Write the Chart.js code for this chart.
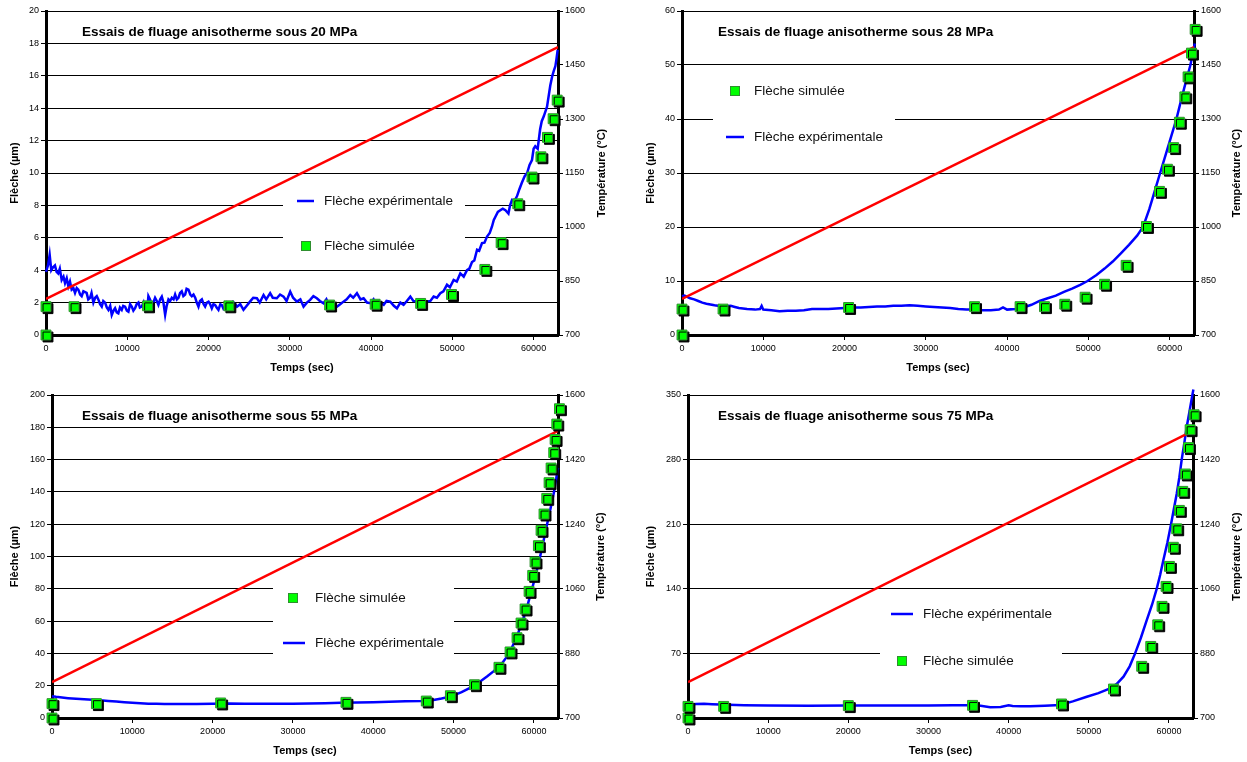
<!DOCTYPE html>
<html>
<head>
<meta charset="utf-8">
<script src="https://cdn.jsdelivr.net/npm/chart.js@4.4.0/dist/chart.umd.min.js"></script>
<style>
  html, body { margin: 0; padding: 0; background: #fff; }
  #wrap { position: relative; width: 1247px; height: 762px; }
  canvas { position: absolute; }
</style>
</head>
<body>
<div id="wrap">
  <canvas id="c20" width="623" height="381" style="left:0;top:0"></canvas>
  <canvas id="c28" width="624" height="381" style="left:623px;top:0"></canvas>
  <canvas id="c55" width="623" height="381" style="left:0;top:381px"></canvas>
  <canvas id="c75" width="624" height="381" style="left:623px;top:381px"></canvas>
</div>
<script>
// ---- data ----
const xTicks = [0, 10000, 20000, 30000, 40000, 50000, 60000];
const tempTicksA = [700, 850, 1000, 1150, 1300, 1450, 1600];
const tempTicksB = [700, 880, 1060, 1240, 1420, 1600];
const tempTime = [0, 63000];
const tempVal = [800, 1500];

// 20 MPa
const yTicks20 = [0, 2, 4, 6, 8, 10, 12, 14, 16, 18, 20];
const expT20 = [0, 250, 450, 650, 900, 1100, 1300, 1500, 1700, 1930, 2150, 2340, 2550, 2750, 2950, 3160, 3370, 3570, 3780, 3980,
  4200, 4390, 4600, 5000, 5200, 5420, 5600, 5830, 6050, 6250, 6440, 6650, 6860, 7050, 7270, 7480, 7680, 7900, 8090, 8300,
  8500, 8700, 8900, 9100, 9320, 9500, 9730, 9950, 10140, 10350, 10550, 10750, 10960, 11150, 11370, 11550, 11780, 12000, 12200, 12450,
  12600, 12800, 13000, 13200, 13420, 13630, 13830, 14050, 14250, 14450, 14660, 14850, 15070, 15280, 15480, 15700, 15890, 16100, 16300, 16500,
  16700, 16900, 17120, 17300, 17530, 17750, 17940, 18150, 18360, 18550, 18760, 18950, 19180, 19400, 19580, 19800, 20000, 20200, 20400, 20600,
  20810, 21000, 21220, 21450, 21640, 21850, 22050, 22300, 22660, 23000, 23300, 23500, 23900, 24300, 24700, 25100, 25500, 25950, 26300, 26770,
  27100, 27580, 27900, 28400, 28800, 29230, 29600, 30050, 30400, 30870, 31300, 31690, 32100, 32500, 32900, 33330, 33700, 34150, 34500, 34970,
  35400, 35800, 36200, 36600, 37000, 37440, 37800, 38260, 38700, 39080, 39500, 39900, 40300, 40700, 41100, 41550, 41900, 42360, 42800, 43180,
  43600, 44000, 44400, 44830, 45200, 45650, 46000, 46470, 46880, 47300, 47700, 48100, 48520, 48900, 49340, 49700, 50160, 50550, 50980, 51400,
  51800, 52100, 52420, 52700, 53040, 53300, 53650, 53950, 54270, 54600, 54880, 55100, 55300, 55600, 55900, 56200, 56530, 56900, 57100, 57350,
  57650, 57950, 58250, 58550, 58900, 59200, 59500, 59800, 60000, 60200, 60500, 60800, 61000, 61250, 61650, 62050, 62300, 62480, 62680, 62800, 62960];
const expF20 = [3.9, 4.3, 4.95, 4.0, 4.2, 4.3, 3.9, 3.8, 4.1, 3.4, 3.6, 3.2, 3.5, 3.0, 3.3, 2.8, 2.9, 2.6, 2.9, 2.8,
  2.5, 2.4, 2.7, 2.6, 2.2, 2.3, 2.6, 2.0, 2.3, 2.4, 2.2, 1.9, 1.75, 2.1, 2.0, 1.7, 1.55, 1.8, 1.24, 1.5,
  1.65, 1.4, 1.34, 1.7, 1.55, 1.8, 1.75, 1.5, 1.44, 1.9, 1.75, 1.5, 1.65, 1.9, 2.0, 1.7, 1.75, 2.0, 1.55, 1.5,
  2.4, 2.2, 1.9, 2.0, 2.3, 2.1, 1.86, 2.2, 2.37, 2.0, 1.24, 1.8, 2.2, 2.1, 2.3, 2.2, 2.5, 2.2, 2.3, 2.6,
  2.7, 2.4, 2.5, 2.85, 2.8, 2.5, 2.4, 2.5, 2.3, 2.0, 1.75, 2.1, 2.2, 1.9, 1.75, 2.0, 2.06, 1.9, 1.65, 1.9,
  1.85, 1.7, 1.55, 1.9, 1.85, 1.6, 1.65, 2.0, 1.85, 2.05, 1.9, 1.75, 1.9, 1.55, 1.8, 2.06, 2.3, 2.27, 2.0, 2.47,
  2.2, 2.58, 2.3, 2.27, 2.5, 2.37, 2.1, 2.68, 2.3, 2.06, 2.2, 1.75, 2.0, 2.17, 2.4, 2.27, 2.1, 1.96, 2.2, 1.65,
  1.9, 1.75, 1.9, 2.06, 2.2, 2.47, 2.3, 2.58, 2.2, 2.27, 2.0, 1.96, 2.2, 1.75, 2.0, 1.86, 2.1, 2.06, 1.8, 1.65,
  2.0, 1.86, 2.1, 2.37, 2.1, 2.06, 1.8, 1.75, 2.06, 2.1, 2.37, 2.3, 2.58, 2.7, 3.1, 2.95, 3.4, 3.3, 3.8, 3.6,
  4.0, 4.1, 4.5, 4.6, 5.26, 5.2, 5.67, 5.7, 6.08, 6.3, 6.7, 7.1, 7.3, 7.6, 7.7, 7.8, 7.7, 7.5, 8.0, 8.35,
  8.3, 8.56, 9.0, 9.4, 9.8, 10.0, 10.5, 10.8, 11.5, 11.65, 11.5, 12.7, 13.2, 13.5, 14.1, 15.4, 16.0, 16.3, 16.6, 17.0, 17.6];
const simT20 = [0, 0, 3450, 12500, 22500, 34900, 40500, 46100, 49900, 54000, 56000, 58050, 59800, 60900, 61700, 62400, 62900];
const simF20 = [0, 1.75, 1.75, 1.8, 1.8, 1.85, 1.9, 1.95, 2.5, 4.05, 5.7, 8.1, 9.75, 11.0, 12.2, 13.35, 14.5];

// 28 MPa
const yTicks28 = [0, 10, 20, 30, 40, 50, 60];
const expT28 = [0, 300, 700, 1000, 1500, 2000, 2500, 3000, 4000, 5000, 6000, 6500, 7000, 8000, 9000, 9600, 9800, 10000, 11000, 12000,
  13000, 14000, 15000, 16000, 17000, 18000, 19000, 20000, 21000, 22000, 23000, 24000, 25000, 26000, 27000, 28000, 29000, 30000, 31000, 32000,
  33000, 34000, 35000, 36000, 37000, 38000, 39000, 39500, 40000, 41000, 41600, 42000, 43000, 44000, 45000, 46000, 47000, 48000, 49000, 49900,
  51000, 52000, 53000, 54000, 55000, 56000, 56730, 57500, 58000, 58830, 59500, 60000, 60840, 61500, 62000, 62560, 63100];
const expF28 = [7.2, 7.3, 7.0, 6.8, 6.6, 6.3, 6.0, 5.8, 5.5, 5.3, 5.4, 5.2, 5.0, 4.8, 4.7, 4.8, 5.4, 4.7, 4.6, 4.4,
  4.5, 4.5, 4.6, 4.8, 4.8, 4.8, 4.9, 5.0, 5.1, 5.1, 5.2, 5.3, 5.3, 5.4, 5.4, 5.5, 5.4, 5.3, 5.2, 5.1,
  5.0, 4.8, 4.7, 4.7, 4.6, 4.6, 4.7, 5.1, 4.7, 4.8, 4.9, 5.1, 5.6, 6.3, 6.8, 7.3, 8.0, 8.6, 9.3, 10.0,
  11.1, 12.3, 13.6, 15.1, 16.7, 18.4, 20.0, 23.3, 25.8, 30.0, 33.3, 35.8, 40.0, 44.0, 46.9, 50.0, 54.0];
const simT28 = [0, 0, 5050, 20500, 36000, 41600, 44600, 47100, 49600, 52000, 54650, 57150, 58750, 59730, 60500, 61200, 61870, 62270, 62690, 63140];
const simF28 = [0, 4.8, 4.8, 5.1, 5.25, 5.25, 5.25, 5.7, 7.0, 9.4, 12.9, 20.1, 26.6, 30.7, 34.7, 39.4, 44.1, 47.8, 52.2, 56.6];

// 55 MPa
const yTicks55 = [0, 20, 40, 60, 80, 100, 120, 140, 160, 180, 200];
const expT55 = [0, 500, 1000, 2000, 3000, 4000, 5000, 6000, 7000, 8000, 9000, 10000, 11000, 12000, 13000, 14000, 16000, 18000, 20000, 22000,
  24000, 26000, 28000, 30000, 32000, 34000, 36000, 38000, 40000, 42000, 44000, 46000, 47500, 48500, 49700, 51000, 52600, 54200, 55000, 55900,
  56940, 58000, 59000, 59770, 60500, 61000, 61640, 62000, 62500, 63000];
const expF55 = [13.5, 13.1, 12.8, 12.3, 11.9, 11.6, 11.3, 11.0, 10.6, 10.2, 9.8, 9.4, 9.1, 8.9, 8.8, 8.7, 8.6, 8.7, 8.8, 9.0,
  8.9, 8.8, 8.8, 8.9, 9.0, 9.2, 9.4, 9.6, 9.8, 10.0, 10.3, 10.5, 11.2, 12.1, 13.4, 16.0, 20.0, 25.8, 29.0, 33.0,
  40.0, 52.0, 66.0, 80.0, 94.0, 105.0, 120.0, 128.0, 140.0, 155.0];
const simT55 = [0, 0, 5530, 21000, 36600, 46600, 49600, 52600, 55650, 57030, 57900, 58400, 58900, 59400, 59850, 60140, 60560, 60890, 61260,
  61600, 61890, 62140, 62470, 62640, 62850, 63180];
const simF55 = [0, 8.9, 8.9, 9.3, 9.7, 10.5, 13.8, 20.6, 31.4, 40.9, 49.7, 58.8, 67.5, 78.4, 88.3, 96.6, 106.7, 116.2, 126.3,
  136, 145.7, 154.8, 164.3, 172.5, 182, 191.5];

// 75 MPa
const yTicks75 = [0, 70, 140, 210, 280, 350];
const expT75 = [0, 1000, 2000, 3000, 5000, 7000, 10000, 15000, 20000, 25000, 30000, 33000, 35500, 36500, 37700, 39000, 40000, 40500, 41500, 42700,
  44500, 46430, 48000, 49750, 51200, 52660, 53500, 54330, 55100, 55780, 56500, 57230, 57900, 58470, 58900, 59300, 59800, 60260, 60600, 60970,
  61300, 61590, 61900, 62220, 62600, 62920, 63050];
const expF75 = [14.4, 15.2, 15.5, 15.0, 14.3, 13.8, 13.5, 13.3, 13.5, 13.6, 13.5, 13.7, 13.8, 13.2, 11.6, 12.0, 13.7, 13.0, 12.8, 12.6,
  13.4, 14.1, 18, 23, 27, 32, 37, 44.8, 56, 70, 87, 106, 123, 140, 155, 171, 190, 210, 226, 243,
  261, 280, 297, 315.6, 334, 350, 356];
const simT75 = [0, 0, 4450, 20000, 35500, 46600, 53080, 56600, 57730, 58600, 59140, 59640, 60060, 60550, 60970, 61300, 61720, 62050, 62430, 62640, 63140];
const simF75 = [0, 12.6, 12.6, 13.4, 13.7, 15.2, 31.4, 56, 77.6, 101, 121, 142.6, 164.3, 185, 205, 225, 245.6, 264.4, 293, 312.4, 328.6];

// ---- drawing ----
const FONT = "'Liberation Sans', Arial, sans-serif";
const BLUE = '#0000ff', RED = '#ff0000', GREEN = '#00ff00', GREEN_EDGE = '#2f8f2f';
const EXP = 'Flèche expérimentale', SIM = 'Flèche simulée';

function pts(xs, ys) { return xs.map((x, i) => ({ x: x, y: ys[i] })); }

// titles, legend box and the drop shadow of the simulated squares
function deco(L) {
  return {
    id: 'deco',
    beforeDatasetsDraw(chart) {
      const ctx = chart.ctx;
      ctx.save();
      ctx.fillStyle = '#fff';
      ctx.fillRect(L.box[0], L.box[1], L.box[2], L.box[3]);
      ctx.restore();
    },
    beforeDatasetDraw(chart, args) {
      if (chart.data.datasets[args.index].shadow) {
        const ctx = chart.ctx;
        ctx.save();
        ctx.shadowColor = '#000';
        ctx.shadowOffsetX = 2;
        ctx.shadowOffsetY = 2;
        ctx.shadowBlur = 0;
      }
    },
    afterDatasetDraw(chart, args) {
      if (chart.data.datasets[args.index].shadow) chart.ctx.restore();
    },
    afterDraw(chart) {
      const ctx = chart.ctx, a = chart.chartArea;
      ctx.save();
      ctx.fillStyle = '#000';
      ctx.textBaseline = 'middle';
      ctx.textAlign = 'left';
      ctx.font = 'bold 13.5px ' + FONT;
      ctx.fillText(L.title, L.titleX, L.titleY);

      L.items.forEach(it => {
        if (it.kind === 'line') {
          ctx.strokeStyle = BLUE;
          ctx.lineWidth = 2.5;
          ctx.beginPath();
          ctx.moveTo(it.x0, it.y);
          ctx.lineTo(it.x1, it.y);
          ctx.stroke();
        } else {
          ctx.fillStyle = GREEN;
          ctx.fillRect(it.x0 - 4.5, it.y - 4.5, 9, 9);
          ctx.strokeStyle = GREEN_EDGE;
          ctx.lineWidth = 1;
          ctx.strokeRect(it.x0 - 4.5, it.y - 4.5, 9, 9);
        }
        ctx.fillStyle = '#111';
        ctx.font = '13.5px ' + FONT;
        ctx.fillText(it.text, it.tx, it.y);
      });

      ctx.fillStyle = '#000';
      ctx.font = 'bold 11px ' + FONT;
      ctx.translate(L.rTitleX, (a.top + a.bottom) / 2);
      ctx.rotate(-Math.PI / 2);
      ctx.textAlign = 'center';
      ctx.fillText('Température (°C)', 0, 0);
      ctx.restore();
    }
  };
}

function makeChart(id, L) {
  const tickFont = { family: FONT, size: 9 };
  const titleFont = { family: FONT, size: 11, weight: 'bold' };
  new Chart(document.getElementById(id), {
    type: 'scatter',
    data: {
      datasets: [
        { label: SIM, data: pts(L.simT, L.simF), yAxisID: 'y', order: 0, shadow: true, clip: false,
          pointStyle: 'rect', pointRadius: 7, backgroundColor: GREEN, borderColor: GREEN_EDGE, borderWidth: 1 },
        { label: 'Température', data: pts(tempTime, tempVal), yAxisID: 'yT', order: 1, showLine: true,
          borderColor: RED, borderWidth: 2.5, pointRadius: 0 },
        { label: EXP, data: pts(L.expT, L.expF), yAxisID: 'y', order: 2, showLine: true, clip: false,
          borderColor: BLUE, borderWidth: 2.5, pointRadius: 0 }
      ]
    },
    options: {
      responsive: false,
      animation: false,
      events: [],
      layout: { padding: { top: L.top, left: 0, right: 0, bottom: 0 } },
      plugins: { legend: { display: false }, tooltip: { enabled: false } },
      scales: {
        x: {
          type: 'linear', position: 'bottom', min: 0, max: 63000,
          afterBuildTicks: s => { s.ticks = xTicks.map(v => ({ value: v })); },
          afterFit: s => { s.height = L.xH; },
          grid: { drawOnChartArea: false, drawTicks: true, tickLength: 5, tickColor: '#000' },
          border: { display: true, color: '#000', width: 3 },
          ticks: { font: tickFont, color: '#000', padding: 3, maxRotation: 0, autoSkip: false, callback: v => String(v) },
          title: { display: true, text: 'Temps (sec)', font: titleFont, color: '#000', padding: { top: 0, bottom: L.xPad } }
        },
        y: {
          type: 'linear', position: 'left', min: 0, max: L.yTicks[L.yTicks.length - 1],
          afterBuildTicks: s => { s.ticks = L.yTicks.map(v => ({ value: v })); },
          afterFit: s => { s.width = L.lW; },
          grid: { color: '#000', lineWidth: 1, drawTicks: true, tickLength: 5, tickColor: '#000' },
          border: { display: true, color: '#000', width: 3 },
          ticks: { font: tickFont, color: '#000', padding: 2, autoSkip: false, callback: v => String(v) },
          title: { display: true, text: 'Flèche (µm)', font: titleFont, color: '#000', padding: { top: L.lPad, bottom: 0 } }
        },
        yT: {
          type: 'linear', position: 'right', min: 700, max: 1600,
          afterBuildTicks: s => { s.ticks = L.tTicks.map(v => ({ value: v })); },
          afterFit: s => { s.width = L.rW; },
          grid: { drawOnChartArea: false, drawTicks: true, tickLength: 5, tickColor: '#000' },
          border: { display: true, color: '#000', width: 3 },
          ticks: { font: tickFont, color: '#000', padding: 2, autoSkip: false, callback: v => String(v) },
          title: { display: false }
        }
      }
    },
    plugins: [deco(L)]
  });
}

makeChart('c20', {
  expT: expT20, expF: expF20, simT: simT20, simF: simF20, yTicks: yTicks20, tTicks: tempTicksA,
  top: 11, lW: 46, rW: 65, xH: 46, lPad: 8, xPad: 6, rTitleX: 602,
  title: 'Essais de fluage anisotherme sous 20 MPa', titleX: 82, titleY: 32,
  box: [283, 184, 182, 78],
  items: [
    { kind: 'line', x0: 297, x1: 314, y: 201, tx: 324, text: EXP },
    { kind: 'square', x0: 306, y: 246, tx: 324, text: SIM }
  ]
});

makeChart('c28', {
  expT: expT28, expF: expF28, simT: simT28, simF: simF28, yTicks: yTicks28, tTicks: tempTicksA,
  top: 11, lW: 59, rW: 53, xH: 46, lPad: 21, xPad: 6, rTitleX: 614,
  title: 'Essais de fluage anisotherme sous 28 MPa', titleX: 95, titleY: 32,
  box: [90, 72, 182, 86],
  items: [
    { kind: 'square', x0: 112, y: 91, tx: 131, text: SIM },
    { kind: 'line', x0: 103, x1: 121, y: 137, tx: 131, text: EXP }
  ]
});

makeChart('c55', {
  expT: expT55, expF: expF55, simT: simT55, simF: simF55, yTicks: yTicks55, tTicks: tempTicksB,
  top: 14, lW: 52, rW: 65, xH: 44, lPad: 8, xPad: 4, rTitleX: 601,
  title: 'Essais de fluage anisotherme sous 55 MPa', titleX: 82, titleY: 35,
  box: [273, 192, 181, 96],
  items: [
    { kind: 'square', x0: 293, y: 217, tx: 315, text: SIM },
    { kind: 'line', x0: 283, x1: 305, y: 262, tx: 315, text: EXP }
  ]
});

makeChart('c75', {
  expT: expT75, expF: expF75, simT: simT75, simF: simF75, yTicks: yTicks75, tTicks: tempTicksB,
  top: 14, lW: 65, rW: 54, xH: 44, lPad: 21, xPad: 4, rTitleX: 614,
  title: 'Essais de fluage anisotherme sous 75 MPa', titleX: 95, titleY: 35,
  box: [257, 214, 182, 95],
  items: [
    { kind: 'line', x0: 268, x1: 290, y: 233, tx: 300, text: EXP },
    { kind: 'square', x0: 279, y: 280, tx: 300, text: SIM }
  ]
});
</script>
</body>
</html>
